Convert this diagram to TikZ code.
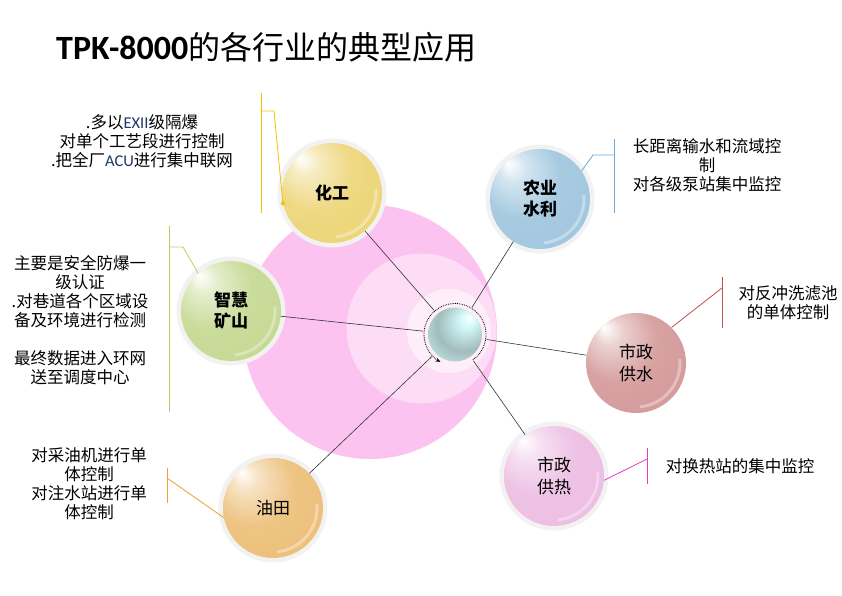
\documentclass[tikz,border=0pt]{standalone}
\usepackage{fontspec}
\setmainfont{Carlito}
\newfontfamily\cjk{Noto Sans CJK SC}
\usetikzlibrary{arrows.meta}

\definecolor{pinkbig}{RGB}{252,194,240}
\definecolor{pinkmid}{RGB}{252,221,245}
\definecolor{pinksmall}{RGB}{253,238,249}
\definecolor{hgcol}{RGB}{236,212,116}
\definecolor{kzcol}{RGB}{196,216,144}
\definecolor{slcol}{RGB}{158,197,222}
\definecolor{gscol}{RGB}{211,152,152}
\definecolor{grcol}{RGB}{236,188,226}
\definecolor{ytcol}{RGB}{236,190,118}
\definecolor{hgline}{RGB}{240,196,0}
\definecolor{kzline}{RGB}{176,212,100}
\definecolor{slline}{RGB}{100,170,220}
\definecolor{gsline}{RGB}{192,80,77}
\definecolor{grline}{RGB}{230,60,200}
\definecolor{ytline}{RGB}{240,160,40}
\definecolor{latblue}{RGB}{31,56,100}
\definecolor{hubA}{RGB}{208,246,246}
\definecolor{hubB}{RGB}{162,188,188}
\definecolor{hubC}{RGB}{118,138,138}

\colorlet{glosscol}{white}
\pgfdeclareradialshading[glosscol]{gloss}{\pgfpoint{-16bp}{18bp}}{%
  color(0bp)=(white);
  color(7bp)=(glosscol!45!white);
  color(20bp)=(glosscol!90!white);
  color(40bp)=(glosscol);
  color(46bp)=(glosscol!88!black);
  color(50bp)=(glosscol!72!black)}
\pgfdeclareradialshading{hubglass}{\pgfpoint{14bp}{16bp}}{%
  color(0bp)=(white);
  color(8bp)=(hubA);
  color(24bp)=(hubB);
  color(42bp)=(hubA);
  color(48bp)=(hubB);
  color(50bp)=(hubC)}

\newcommand\lat[1]{{\rmfamily\color{latblue}#1}}

\begin{document}
\begin{tikzpicture}[x=1pt,y=1pt,%
    sphere/.style={circle,minimum size=100pt,inner sep=0pt,shading=gloss,align=center,
      path picture={\draw[white,opacity=.35,line width=3pt]
        (path picture bounding box.center) ++(-85:44) arc[start angle=-85,end angle=5,radius=44];}},
    gloss color/.code={\colorlet{glosscol}{#1}},
    lab b/.style={font=\cjk\fontsize{17}{21}\selectfont\bfseries},
    lab n/.style={font=\cjk\fontsize{17}{22}\selectfont},
    link/.style={draw=black!80,line width=0.6pt},
    callout/.style={line width=0.8pt},
    note/.style={align=center,font=\cjk\fontsize{16.5}{19}\selectfont}]

  \useasboundingbox (0,0) rectangle (842,595);

  % background discs
  \fill[pinkbig] (370,263) circle (127);
  \fill[pinkmid] (421.5,266.5) circle (75);
  \fill[pinksmall] (449,264) circle (42);

  \node[anchor=base west,inner sep=0pt] (title) at (56,535)
    {{\fontsize{34}{38}\selectfont\bfseries TPK-8000}{\cjk\fontsize{32}{36}\selectfont 的各行业的典型应用}};

  % hub
  \node[circle,minimum size=54pt,inner sep=0pt,outer sep=5pt,shading=hubglass] (hub) at (455,260.5) {};
  \draw[densely dotted,line width=0.8pt,-{Stealth[length=5pt,width=4pt]}]
    (hub.center) ++(-55:31) arc[start angle=-55,end angle=242,radius=31];

  % branch spheres
  \foreach \n/\x/\y/\col/\h/\f/\txt in {%
      hg/332/402/hgcol/5/b/化工,%
      kz/231/284/kzcol/5/b/智慧\\矿山,%
      sl/540/396/slcol/5/b/农业\\水利,%
      gs/636/232/gscol/0/n/市政\\供水,%
      gr/554/119/grcol/5/n/市政\\供热,%
      yt/273/87/ytcol/5/n/油田%
    } { \fill[black!\h] (\x,\y) circle (54.5);
        \node[sphere,gloss color=\col,lab \f] (\n) at (\x,\y) {\txt};
        \draw[link] (\n) -- (hub);
    }

  % callout bars
  \foreach \n/\bx/\bt/\bb/\jy/\kx/\ky/\a/\col in {%
      hg/261/502/382/484/274/484/192/hgline,%
      kz/169/369/183/348/183/348/131/kzline,%
      sl/614/456/382/440/593/440/34/slline,%
      gs/722/318/267/307/722/307/45/gsline,%
      gr/647/147/111/136/647/136/-5/grline,%
      yt/167/127/92/117/167/117/191/ytline%
    } { \coordinate (\n-t) at (\bx,\bt);
        \coordinate (\n-b) at (\bx,\bb);
        \coordinate (\n-j) at (\bx,\jy);
        \coordinate (\n-k) at (\kx,\ky);
        \draw[callout,\col] (\n-t) -- (\n-b);
        \draw[callout,\col] (\n-j) -- (\n-k) -- (\n.\a);
    }
  \fill[hgline] (hg.192) circle (2);

  % notes
  \node[note] (hg-txt) at (142,454) {.多以\lat{EXII}级隔爆\\对单个工艺段进行控制\\.把全厂\lat{ACU}进行集中联网};
  \node[note] (kz-txt) at (80,274.5) {主要是安全防爆一\\级认证\\.对巷道各个区域设\\备及环境进行检测\\[19pt]最终数据进入环网\\送至调度中心};
  \node[note] (sl-txt) at (707,430) {长距离输水和流域控\\制\\对各级泵站集中监控};
  \node[note] (gs-txt) at (788,292.5) {对反冲洗滤池\\的单体控制};
  \node[note] (gr-txt) at (740,129) {对换热站的集中监控};
  \node[note] (yt-txt) at (89,111) {对采油机进行单\\体控制\\对注水站进行单\\体控制};
\end{tikzpicture}
\end{document}
